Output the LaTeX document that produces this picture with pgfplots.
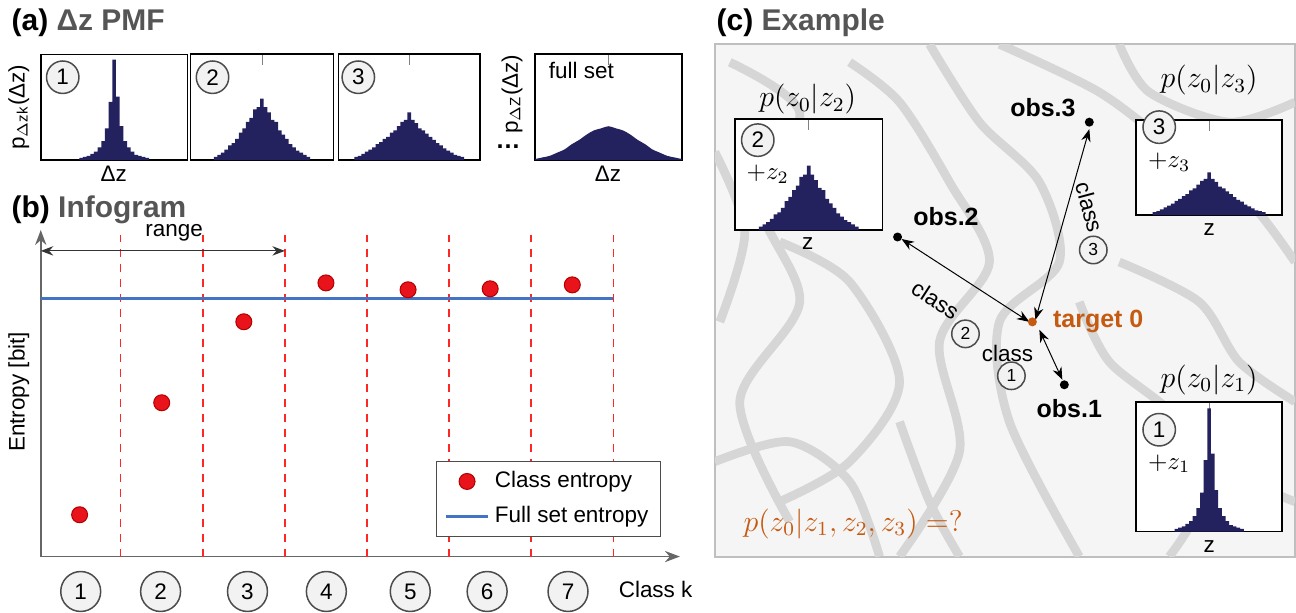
\documentclass[border=0pt]{standalone}
\usepackage{pgfplots}
\pgfplotsset{compat=1.18}
\usepackage{pgfplotstable}
\usepackage{fontspec}
\setmainfont{Liberation Sans}
\usetikzlibrary{arrows.meta}
\definecolor{navy}{HTML}{23215E}
\definecolor{dotred}{HTML}{E8131B}
\definecolor{lineblue}{HTML}{4472C4}
\definecolor{orng}{HTML}{C55A11}
\definecolor{titlegray}{HTML}{555555}
\pgfplotstableread{
x h
-9 .02
-8 .03
-7 .04
-6 .06
-5 .08
-4 .12
-3 .18
-2 .30
-1 .55
0 .95
1 .60
2 .32
3 .18
4 .12
5 .08
6 .05
7 .04
8 .03
9 .02
}\Hone
\pgfplotstableread{
x h
-13 .03
-12 .05
-11 .07
-10 .10
-9 .14
-8 .16
-7 .20
-6 .26
-5 .30
-4 .36
-3 .40
-2 .48
-1 .50
0 .58
1 .50
2 .45
3 .38
4 .36
5 .28
6 .24
7 .20
8 .15
9 .12
10 .09
11 .07
12 .05
13 .03
}\Htwo
\pgfplotstableread{
x h
-15 .03
-14 .04
-13 .06
-12 .08
-11 .10
-10 .12
-9 .15
-8 .17
-7 .20
-6 .22
-5 .26
-4 .28
-3 .32
-2 .36
-1 .38
0 .45
1 .38
2 .35
3 .30
4 .28
5 .25
6 .22
7 .19
8 .16
9 .14
10 .11
11 .09
12 .07
13 .05
14 .04
15 .03
}\Hthree
\pgfplotstableread{
x h
-20 .01
-18 .025
-16 .04
-14 .07
-12 .10
-10 .15
-8 .19
-6 .24
-4 .28
-2 .30
0 .32
2 .30
4 .28
6 .24
8 .19
10 .15
12 .10
14 .07
16 .04
18 .025
20 .01
}\Hfull
\pgfplotsset{
 hist/.style={scale only axis, anchor=north west, xmin=-20, xmax=20, ymin=0, ymax=1,
   ytick=\empty, xtick=\empty, axis line style={black, line width=0.6pt}, clip=true},
}
\tikzset{cnum/.style={circle, draw=black!70, fill=black!5, line width=0.6pt, inner sep=1pt, minimum size=13pt, font=\small}}
\newcommand\AT[2]{at={({#1*0.4pt},{-#2*0.4pt})}}
\begin{document}
\begin{tikzpicture}[x=0.4pt, y=-0.4pt]
\path (0,0) rectangle (1296,606);
% ---------- (a)
\node[anchor=west, font=\bfseries\large] at (2,20) {(a) \textcolor{titlegray}{Δz PMF}};
\begin{axis}[hist, \AT{40}{52}, width=58.8pt, height=42.4pt]
\addplot[ybar, bar width=1, fill=navy, draw=none] table[x=x,y=h] {\Hone};
\end{axis}
\begin{axis}[hist, \AT{190}{52}, width=57.2pt, height=42.4pt, xtick={0}, xticklabels={}]
\addplot[ybar, bar width=1, fill=navy, draw=none] table[x=x,y=h] {\Htwo};
\end{axis}
\begin{axis}[hist, \AT{338}{52}, width=56.8pt, height=42.4pt, xtick={0}, xticklabels={}]
\addplot[ybar, bar width=1, fill=navy, draw=none] table[x=x,y=h] {\Hthree};
\end{axis}
\begin{axis}[hist, \AT{535}{52}, width=58.8pt, height=42.4pt, xtick={0}, xticklabels={}]
\addplot[fill=navy, draw=none, smooth] table[x=x,y=h] {\Hfull} \closedcycle;
\end{axis}
\node[cnum] at (62,75) {1};
\node[cnum] at (212,75) {2};
\node[cnum] at (358,75) {3};
\node[anchor=west, font=\small] at (540,68) {full set};
\node[font=\small] at (113,172) {Δz};
\node[font=\small] at (608,172) {Δz};
\node[rotate=90, font=\small] at (18,105) {p$_{\Delta\mathrm{zk}}$(Δz)};
\node[rotate=90, font=\small] at (512,92) {p$_{\Delta\mathrm{Z}}$(Δz)};
\node[font=\bfseries] at (508,145) {…};
% ---------- (b)
\node[anchor=west, font=\bfseries\large] at (2,208) {(b) \textcolor{titlegray}{Infogram}};
\begin{axis}[scale only axis, anchor=north west, \AT{40}{228}, width=256pt, height=130.8pt,
  xmin=0.527, xmax=8.31, ymin=0, ymax=1, axis lines=left,
  axis line style={black!60, line width=0.6pt, -{Stealth[length=6pt]}},
  xtick=\empty, ytick=\empty, clip=false,
  legend style={at={(0.795,0.06)}, anchor=south, draw=black!70, font=\small, row sep=2pt},
  legend cell align=left]
\foreach \b in {1.5,2.5,3.5,4.5,5.5,6.5,7.5}{
  \edef\tmp{\noexpand\draw[red!85, dashed, line width=0.6pt] (axis cs:\b,0) -- (axis cs:\b,1);}\tmp }
\addplot[only marks, mark=*, mark size=3.2pt, color=dotred, mark options={draw=red!70!black}]
 coordinates {(1,0.128) (2,0.471) (3,0.719) (4,0.838) (5,0.817) (6,0.820) (7,0.832)};
\addlegendentry{Class entropy}
\addplot[lineblue, line width=1.2pt] coordinates {(0.527,0.789) (7.5,0.789)};
\addlegendentry{Full set entropy}
\draw[{Stealth[length=5pt]}-{Stealth[length=5pt]}, black!80] (axis cs:0.527,0.936) -- (axis cs:3.5,0.936);
\node[font=\small] at (axis cs:2.15,0.99) {range};
\end{axis}
\node[rotate=90, font=\small] at (18,390) {Entropy [bit]};
\foreach \k/\xx in {1/80,2/160,3/247,4/326,5/410,6/487,7/568}{
  \node[cnum, minimum size=16pt] at (\xx,590) {\k};}
\node[anchor=west, font=\small] at (610,588) {Class k};
% ---------- (c)
\node[anchor=west, font=\bfseries\large] at (708,20) {(c) \textcolor{titlegray}{Example}};
\fill[black!4] (715,42) rectangle (1296,555);
\draw[black!25, line width=0.8pt] (715,42) rectangle (1296,555);
\begin{scope}
\clip (715,42) rectangle (1296,555);
\foreach \pth in {
 {(730,60) (800,110) (760,200) (800,300) (740,400) (790,520)},
 {(850,60) (900,100) (950,180) (990,260) (940,340) (960,450) (900,555)},
 {(930,42) (980,120) (1040,180) (1060,260) (1000,320) (1010,420) (1080,555)},
 {(1000,42) (1100,90) (1180,150) (1250,200) (1296,260)},
 {(1120,260) (1200,300) (1240,360) (1296,400)},
 {(715,460) (790,440) (850,480) (880,555)},
 {(1120,42) (1150,90) (1230,120) (1296,100)},
 {(780,240) (850,280) (900,380) (850,460) (780,500)},
 {(1080,300) (1110,360) (1180,420) (1200,500) (1170,555)},
 {(715,150) (745,230) (720,320)},
 {(900,420) (930,500) (960,555)},
 {(1230,420) (1260,480) (1296,500)}}{
 \draw[black!16, line width=3.5pt] plot[smooth] coordinates \pth;}
\end{scope}
% inset 2
\begin{axis}[hist, \AT{735}{117}, width=59.2pt, height=44.4pt, xtick={0}, xticklabels={}, axis background/.style={fill=white}]
\addplot[ybar, bar width=1, fill=navy, draw=none] table[x=x,y=h] {\Htwo};
\end{axis}
\node[cnum] at (758,138) {2};
\node[anchor=west] at (738,172) {$+z_2$};
\node[font=\small] at (808,242) {z};
\node[font=\large] at (808,97) {$p(z_0|z_2)$};
% inset 3
\begin{axis}[hist, \AT{1137}{118}, width=58.4pt, height=38pt, xtick={0}, xticklabels={}, axis background/.style={fill=white}]
\addplot[ybar, bar width=1, fill=navy, draw=none] table[x=x,y=h] {\Hthree};
\end{axis}
\node[cnum] at (1160,125) {3};
\node[anchor=west] at (1140,160) {$+z_3$};
\node[font=\small] at (1210,228) {z};
\node[font=\large] at (1210,78) {$p(z_0|z_3)$};
% inset 1
\begin{axis}[hist, \AT{1137}{400}, width=58.4pt, height=52pt, xtick={0}, xticklabels={}, axis background/.style={fill=white}]
\addplot[ybar, bar width=1, fill=navy, draw=none] table[x=x,y=h] {\Hone};
\end{axis}
\node[cnum] at (1160,428) {1};
\node[anchor=west] at (1140,462) {$+z_1$};
\node[font=\small] at (1210,545) {z};
\node[font=\large] at (1210,378) {$p(z_0|z_1)$};
% points and arrows
\draw[{Stealth[length=5pt]}-{Stealth[length=5pt]}] (1090,127) -- (1036,318);
\draw[{Stealth[length=5pt]}-{Stealth[length=5pt]}] (902,237) -- (1030,320);
\draw[{Stealth[length=5pt]}-{Stealth[length=5pt]}] (1040,328) -- (1063,378);
\fill (1090,120) circle (4.5);
\fill (898,235) circle (4.5);
\fill (1065,383) circle (4.5);
\fill[orng] (1033,320) circle (4.5);
\node[anchor=east, font=\bfseries] at (1085,105) {obs.3};
\node[anchor=west, font=\bfseries] at (905,215) {obs.2};
\node[font=\bfseries] at (1070,407) {obs.1};
\node[anchor=west, font=\bfseries, text=orng] at (1045,320) {target 0};
\node[rotate=-75, font=\small] at (1090,205) {class};
\node[cnum, minimum size=11pt, font=\scriptsize] at (1094,248) {3};
\node[rotate=-33, font=\small] at (936,298) {class};
\node[cnum, minimum size=11pt, font=\scriptsize] at (966,332) {2};
\node[font=\small] at (1008,352) {class};
\node[cnum, minimum size=11pt, font=\scriptsize] at (1012,374) {1};
\node[anchor=west, text=orng, font=\large] at (735,522) {$p(z_0|z_1,z_2,z_3)=?$};
\end{tikzpicture}
\end{document}
